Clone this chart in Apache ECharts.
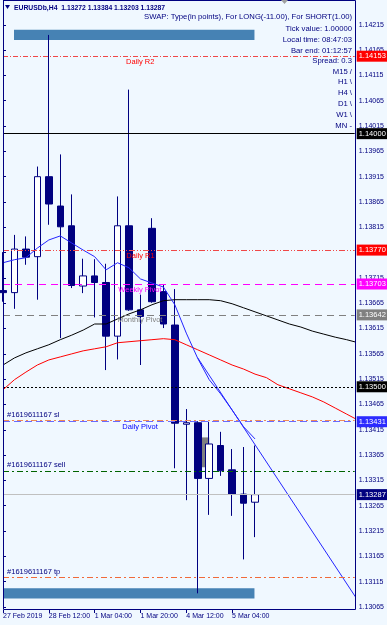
<!DOCTYPE html>
<html>
<head>
<meta charset="utf-8">
<style>
html, body { margin: 0; padding: 0; background: #f0f8ff; }
#container { width: 387px; height: 625px; }
</style>
<script src="https://cdn.jsdelivr.net/npm/echarts@6/dist/echarts.min.js"></script>
</head>
<body>
<div id="container"></div>
<script>
// H4 bars, oldest first
var barTimes = ['27 Feb 20:00', '28 Feb 00:00', '28 Feb 04:00', '28 Feb 08:00', '28 Feb 12:00', '28 Feb 16:00',
	'28 Feb 20:00', '1 Mar 00:00', '1 Mar 04:00', '1 Mar 08:00', '1 Mar 12:00', '1 Mar 16:00', '1 Mar 20:00',
	'4 Mar 00:00', '4 Mar 04:00', '4 Mar 08:00', '4 Mar 12:00', '4 Mar 16:00', '4 Mar 20:00', '5 Mar 00:00',
	'5 Mar 04:00', '5 Mar 08:00', '5 Mar 12:00'];
var openPrices = [1.13690, 1.13686, 1.13772, 1.13757, 1.13915, 1.13857, 1.13818, 1.13699, 1.13719, 1.13706, 1.13600,
	1.13818, 1.13652, 1.13813, 1.13688, 1.13622, 1.13426, 1.13429, 1.13319, 1.13384, 1.13336, 1.13288, 1.13272];
var closePrices = [1.13686, 1.13772, 1.13756, 1.13915, 1.13861, 1.13816, 1.13700, 1.13719, 1.13706, 1.13600, 1.13818,
	1.13652, 1.13639, 1.13668, 1.13624, 1.13428, 1.13429, 1.13319, 1.13387, 1.13334, 1.13288, 1.13270, 1.13287];
var lowPrices = [1.13668, 1.13654, 1.13741, 1.13672, 1.13820, 1.13596, 1.13695, 1.13685, 1.13637, 1.13533, 1.13554,
	1.13650, 1.13543, 1.13666, 1.13616, 1.13339, 1.13276, 1.13092, 1.13247, 1.13324, 1.13245, 1.13159, 1.13203];
var highPrices = [1.13766, 1.13800, 1.13797, 1.13935, 1.14195, 1.13959, 1.13880, 1.13753, 1.13752, 1.13743, 1.13876,
	1.14087, 1.13682, 1.13833, 1.13703, 1.13693, 1.13456, 1.13432, 1.13431, 1.13411, 1.13377, 1.13381, 1.13384];

// moving averages (black and red are shifted forward past the last bar)
var fastMa = [1.13745, 1.13751, 1.13755, 1.13774, 1.13790, 1.13798, 1.13784, 1.13770, 1.13757, 1.13731, 1.13745,
	1.13735, 1.13713, 1.13705, 1.13697, 1.13662, 1.13606, 1.13556, 1.13514, 1.13486, 1.13454, 1.13421, 1.13397];
var blackMa = [1.13543, 1.13557, 1.13567, 1.13575, 1.13583, 1.13593, 1.13602, 1.13612, 1.13624, 1.13624, 1.13634,
	1.13644, 1.13652, 1.13662, 1.13670, 1.13672, 1.13672, 1.13672, 1.13672, 1.13670, 1.13664, 1.13656, 1.13648,
	1.13640, 1.13632, 1.13624, 1.13618, 1.13610, 1.13604, 1.13598, 1.13593, 1.13587];
var redMa = [1.13494, 1.13514, 1.13529, 1.13543, 1.13553, 1.13559, 1.13565, 1.13571, 1.13575, 1.13579, 1.13587,
	1.13589, 1.13591, 1.13593, 1.13595, 1.13593, 1.13583, 1.13573, 1.13563, 1.13553, 1.13543, 1.13535, 1.13525,
	1.13518, 1.13504, 1.13496, 1.13488, 1.13480, 1.13470, 1.13458, 1.13446, 1.13434];
var trendBars = [17, 31];
var trendPrices = [1.13557, 1.13077];

// horizontal levels
var levelNames = ['Daily R2', 'round 1.14000', 'Daily R1', 'Weekly Pivot', 'Monthly Pivot', 'round 1.13500',
	'#1619611167 sl', 'Daily Pivot', '#1619611167 sell', 'bid', '#1619611167 tp'];
var levelPrices = [1.14153, 1.14000, 1.13770, 1.13703, 1.13642, 1.13500, 1.13434, 1.13431, 1.13334, 1.13287, 1.13124];

// x axis tick labels
var xTickBars = [0, 4, 8, 12, 16, 20];
var xTickTexts = ['27 Feb 2019', '28 Feb 12:00', '1 Mar 04:00', '1 Mar 20:00', '4 Mar 12:00', '5 Mar 04:00'];

var headerText = 'EURUSDb,H4  1.13272 1.13384 1.13203 1.13287';
var infoLines = ['SWAP: Type(in points), For LONG(-11.00), For SHORT(1.00)', 'Tick value: 1.00000',
	'Local time: 08:47:03', 'Bar end: 01:12:57', 'Spread: 0.3', 'M15 /', 'H1 \\', 'H4 \\', 'D1 \\', 'W1 \\', 'MN -'];

var NAVY = '#000080';
var FONT = "'Liberation Sans', Arial, sans-serif";

// line style per level, same order as levelNames
var levelStyles = [
	{ color: '#f04848', type: [5, 2, 1, 2], box: '#ff0000' },
	{ color: '#000000', type: 'solid', box: '#000000' },
	{ color: '#f04848', type: [6, 2, 1, 2, 1, 2], box: '#ff0000' },
	{ color: '#ff00ff', type: [7, 5], box: '#ff00ff' },
	{ color: '#808080', type: [7, 5], box: '#808080' },
	{ color: '#000000', type: [2, 2], box: '#000000' },
	{ color: '#f08858', type: [6, 3, 2, 3], box: null },
	{ color: '#6a6aff', type: [7, 4], box: '#2b2bff' },
	{ color: '#006400', type: [6, 3, 2, 3], box: null },
	{ color: '#c0c0c0', type: 'solid', box: NAVY },
	{ color: '#f06a3a', type: [6, 3, 2, 3], box: null }
];

// where the level names are written: [bar, above/below, colour]
var nameSpots = {
	'Daily R2': [10.78, 'below', '#ff0000'],
	'Daily R1': [10.81, 'below', '#ff0000'],
	'Weekly Pivot': [10.11, 'below', '#ff00ff'],
	'Monthly Pivot': [10.03, 'below', '#808080'],
	'Daily Pivot': [10.46, 'below', '#0000ff'],
	'#1619611167 sl': [0.4, 'above', NAVY],
	'#1619611167 sell': [0.4, 'above', NAVY],
	'#1619611167 tp': [0.4, 'above', NAVY]
};

function pairs(arr) {
	return arr.map(function(v, i) { return [i, v]; });
}

var candleData = barTimes.map(function(t, i) {
	return [i, openPrices[i], closePrices[i], lowPrices[i], highPrices[i]];
});

var levelLines = levelPrices.map(function(p, i) {
	var st = levelStyles[i];
	return {
		name: levelNames[i],
		yAxis: p,
		lineStyle: { color: st.color, type: st.type, width: 1 },
		label: st.box ? {
			show: true, position: 'end', distance: 2,
			formatter: p.toFixed(5),
			color: '#ffffff', backgroundColor: st.box,
			fontSize: 7.5, fontFamily: FONT, padding: [2, 2, 1, 2], lineHeight: 8
		} : { show: false }
	};
});

var namePoints = [];
levelNames.forEach(function(n, i) {
	var s = nameSpots[n];
	if (!s) return;
	namePoints.push({
		coord: [s[0], levelPrices[i]],
		label: {
			show: true, formatter: n, color: s[2], fontSize: 7.5, fontFamily: FONT,
			align: 'left', verticalAlign: s[1] == 'below' ? 'top' : 'bottom',
			position: s[1] == 'below' ? [0, 2] : [0, -1]
		}
	});
});

var graphics = [
	{ type: 'rect', z: 100, silent: true, shape: { x: 3.5, y: 0.5, width: 352, height: 609 },
		style: { fill: 'none', stroke: NAVY, lineWidth: 1 } },
	{ type: 'polygon', z: 100, silent: true, shape: { points: [[5, 5], [10, 5], [7.5, 9]] }, style: { fill: NAVY } },
	{ type: 'polygon', z: 100, silent: true, shape: { points: [[281, 0], [288, 0], [284.5, 4]] }, style: { fill: '#a0a0a0' } },
	{ type: 'text', z: 100, silent: true,
		style: { text: headerText, x: 14, y: 8, align: 'left', verticalAlign: 'middle', fill: NAVY,
			font: 'bold 6.8px ' + FONT } }
];
var infoY = [17.3, 29, 40, 50.7, 61, 71.7, 82.3, 93.3, 104, 115, 126];
infoLines.forEach(function(t, i) {
	graphics.push({ type: 'text', z: 100, silent: true,
		style: { text: t, x: 352, y: infoY[i], align: 'right', verticalAlign: 'middle', fill: NAVY,
			font: '7.7px ' + FONT } });
});

var myChart = echarts.init(document.getElementById('container'));
var option = {
	animation: false,
	backgroundColor: '#f0f8ff',
	grid: { left: 3, right: 31, top: 0, bottom: 18 },
	xAxis: {
		type: 'value', min: 0, max: 30.7, offset: 3,
		axisLine: { show: false },
		splitLine: { show: false },
		axisTick: { show: true, length: 3, customValues: xTickBars, lineStyle: { color: NAVY } },
		axisLabel: {
			customValues: xTickBars,
			formatter: function(v) {
				var k = xTickBars.indexOf(Math.round(v));
				return k >= 0 ? xTickTexts[k] : '';
			},
			showMinLabel: true, showMaxLabel: true, hideOverlap: false,
			align: 'left', margin: 3, color: NAVY, fontSize: 7, fontFamily: FONT
		}
	},
	yAxis: {
		type: 'value', position: 'right', min: 1.13065, max: 1.14264, interval: 0.0005,
		axisLine: { show: true, lineStyle: { color: NAVY } },
		splitLine: { show: false },
		axisTick: { show: true, length: 3, lineStyle: { color: NAVY } },
		axisLabel: {
			formatter: function(v) { return v.toFixed(5); },
			showMaxLabel: false, margin: 4, color: NAVY, fontSize: 7, fontFamily: FONT
		}
	},
	graphic: graphics,
	series: [
		{
			name: 'objects', type: 'line', data: [], z: 1, silent: true,
			markArea: {
				silent: true,
				data: [
					[{ coord: [0.96, 1.14205], itemStyle: { color: '#4682b4' } }, { coord: [21.95, 1.14185] }],
					[{ coord: [0, 1.13102], itemStyle: { color: '#4682b4' } }, { coord: [21.95, 1.13082] }],
					[{ coord: [17.28, 1.13400], itemStyle: { color: '#808080' } }, { coord: [18.0, 1.13341] }]
				]
			}
		},
		{
			name: 'EURUSDb', type: 'candlestick', z: 3, barWidth: 7, clip: true,
			data: candleData,
			itemStyle: { color: '#ffffff', color0: NAVY, borderColor: NAVY, borderColor0: NAVY, borderWidth: 1 }
		},
		{
			name: 'MA red', type: 'line', z: 4, symbol: 'none', data: pairs(redMa),
			lineStyle: { color: '#ff0000', width: 1 },
			markLine: { silent: true, symbol: ['none', 'none'], animation: false, precision: 5, data: levelLines }
		},
		{ name: 'MA black', type: 'line', z: 4, symbol: 'none', data: pairs(blackMa),
			lineStyle: { color: '#000000', width: 1 } },
		{ name: 'MA blue', type: 'line', z: 4, symbol: 'none', data: pairs(fastMa),
			lineStyle: { color: '#2424ff', width: 1 } },
		{ name: 'trend', type: 'line', z: 4, symbol: 'none',
			data: trendBars.map(function(b, i) { return [b, trendPrices[i]]; }),
			lineStyle: { color: '#2424ff', width: 1 } },
		{
			name: 'levels', type: 'line', data: [], z: 5, silent: true,
			markPoint: {
				silent: true, symbol: 'rect', symbolSize: 1, itemStyle: { color: 'transparent' },
				data: namePoints
			}
		}
	]
};
myChart.setOption(option);
</script>
</body>
</html>
